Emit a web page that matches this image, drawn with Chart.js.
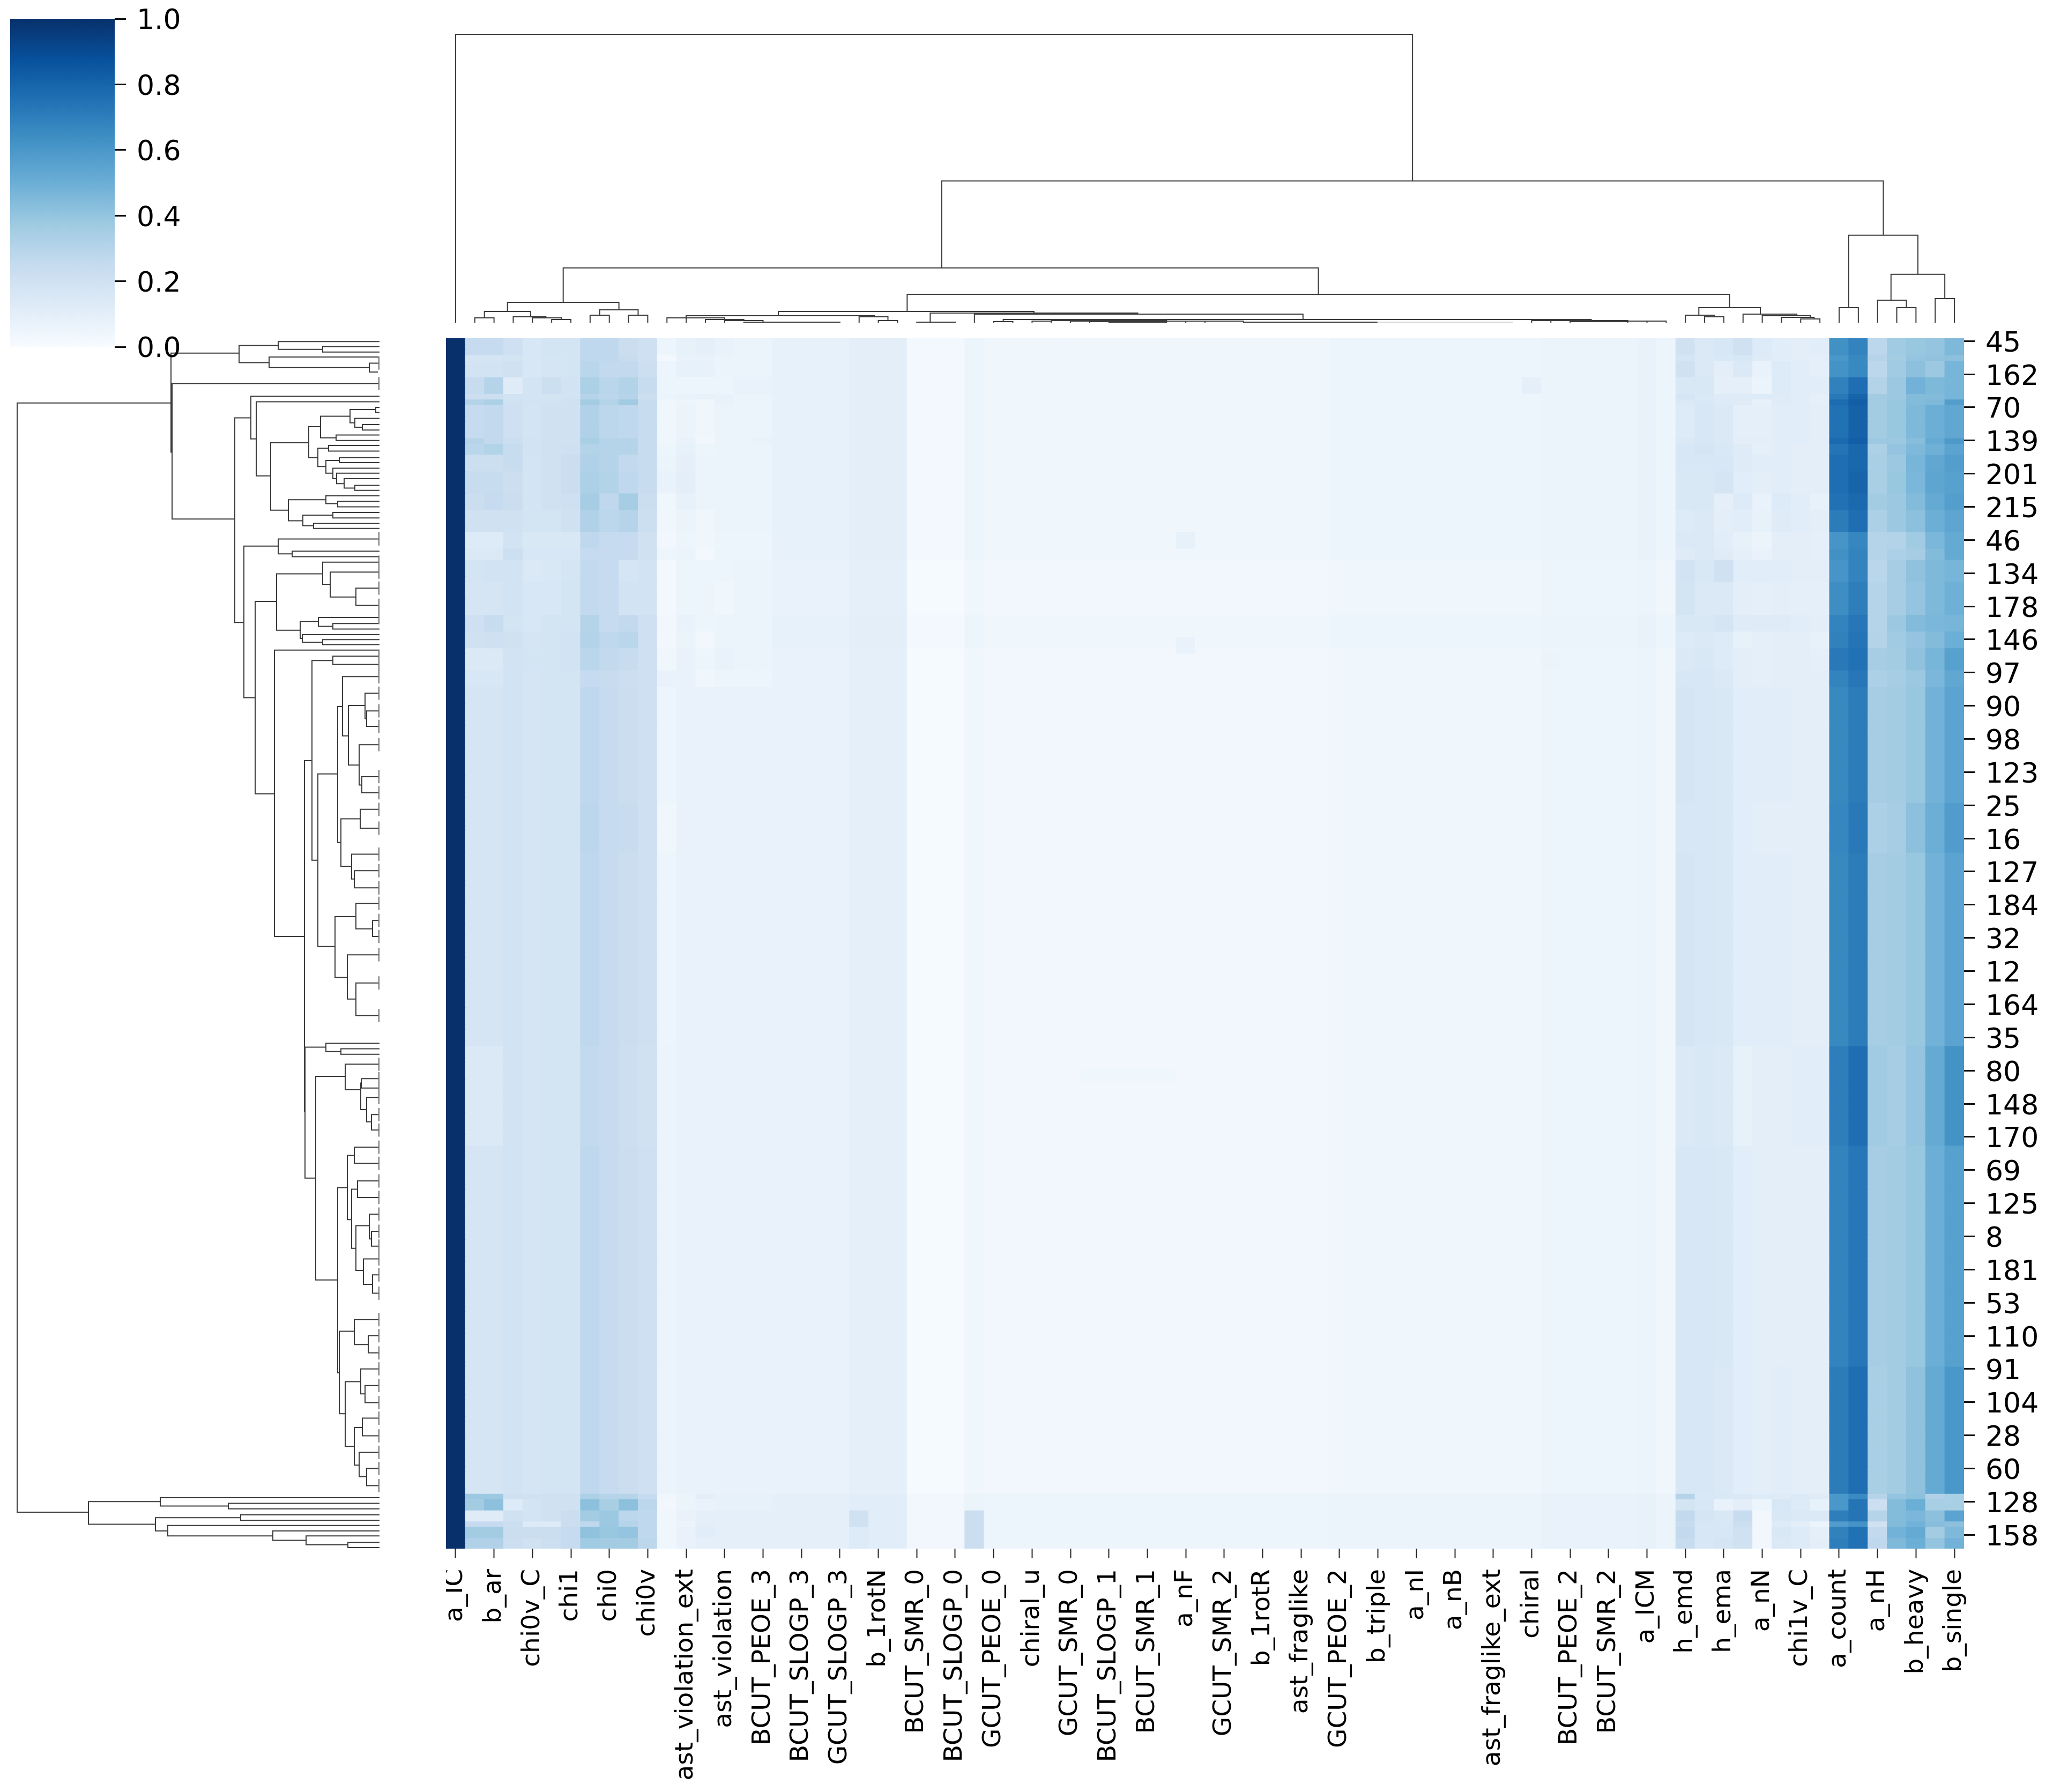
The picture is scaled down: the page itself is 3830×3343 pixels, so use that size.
<!DOCTYPE html>
<html>
<head>
<meta charset="utf-8">
<title>Clustermap</title>
<script src="https://cdn.jsdelivr.net/npm/chart.js@4"></script>
<style>
  html, body { margin: 0; padding: 0; background: #fff; overflow: hidden; }
  #page { position: relative; width: 3830px; height: 3343px; }
  canvas { position: absolute; }
  #colorbar { left: 19px; top: 0; }
  #topTree { left: 832px; top: 61px; }
  #leftTree { left: 18px; top: 631px; }
  #heat { left: 832px; top: 590px; }
</style>
</head>
<body>
<div id="page">
  <canvas id="leftTree" width="690" height="2259"></canvas>
  <canvas id="topTree" width="2832" height="541"></canvas>
  <canvas id="heat" width="2998" height="2753"></canvas>
  <canvas id="colorbar" width="400" height="700"></canvas>
</div>
<script>
Chart.defaults.font.family = "DejaVu Sans";
Chart.defaults.color = "#000";
Chart.defaults.animation = false;
Chart.defaults.events = [];
Chart.defaults.plugins.legend.display = false;
Chart.defaults.plugins.tooltip.enabled = false;

// tick labels: every 2nd column, every 6th row
const columnLabels = ["a_IC", "b_ar", "chi0v_C", "chi1", "chi0", "chi0v", "ast_violation_ext", "ast_violation",
  "BCUT_PEOE_3", "BCUT_SLOGP_3", "GCUT_SLOGP_3", "b_1rotN", "BCUT_SMR_0", "BCUT_SLOGP_0", "GCUT_PEOE_0", "chiral_u",
  "GCUT_SMR_0", "BCUT_SLOGP_1", "BCUT_SMR_1", "a_nF", "GCUT_SMR_2", "b_1rotR", "ast_fraglike", "GCUT_PEOE_2",
  "b_triple", "a_nI", "a_nB", "ast_fraglike_ext", "chiral", "BCUT_PEOE_2", "BCUT_SMR_2", "a_ICM",
  "h_emd", "h_ema", "a_nN", "chi1v_C", "a_count", "a_nH", "b_heavy", "b_single"];
const rowLabels = ["45", "162", "70", "139", "201", "215", "46", "134", "178", "146", "97", "90", "98", "123", "25",
  "16", "127", "184", "32", "12", "164", "35", "80", "148", "170", "69", "125", "8", "181", "53", "110", "91",
  "104", "28", "60", "128", "158"];
const columnCount = 79;
const rowCount = 219;
const colorbarTicks = [0, 0.2, 0.4, 0.6, 0.8, 1];

// matplotlib Blues
const bluesStops = ["#f7fbff", "#deebf7", "#c6dbef", "#9ecae1", "#6baed6", "#4292c6", "#2171b5", "#08519c", "#08306b"];

// column values in the calm rows, in percent of the colour range
const baseColumns = [100,
  17, 17, 19, 17, 18, 18, 27, 25, 23, 21,
  5, 7, 7, 7, 7, 7,
  7, 7, 7, 7,
  9, 9, 9,
  1, 1, 1,
  4,
  3, 3, 3, 3, 3, 3, 3, 3,
  3, 3, 3, 3, 3, 3, 3, 3, 3, 3, 4, 4, 4, 4, 4,
  4, 4, 4, 4, 4, 4, 5, 5, 5, 5,
  5, 6, 4,
  17, 16, 15, 11, 11, 11, 10, 10,
  66, 71, 35, 36, 39, 48, 55];

// rows that differ: [first row, last row, lift of the pale middle, columns 1-16, columns 64-78]
const rowBands = [
  [0, 2, 1, [25, 25, 21, 16, 18, 18, 27, 27, 23, 21, 5, 8, 9, 7, 6, 6], [20, 14, 16, 20, 13, 11, 10, 11, 63, 68, 28, 37, 39, 40, 45]],
  [3, 3, 1, [17, 17, 18, 16, 17, 18, 27, 27, 24, 21, 2, 7, 7, 6, 6, 6], [17, 14, 15, 16, 12, 11, 10, 10, 60, 66, 30, 36, 40, 41, 42]],
  [4, 6, 1, [19, 19, 20, 16, 17, 18, 29, 26, 26, 22, 5, 8, 8, 6, 6, 6], [20, 14, 10, 14, 7, 13, 11, 9, 62, 66, 28, 37, 42, 38, 47]],
  [7, 9, 1, [24, 30, 12, 18, 22, 19, 33, 29, 31, 24, 5, 5, 5, 5, 7, 7], [15, 15, 9, 9, 6, 13, 11, 11, 69, 76, 31, 38, 48, 45, 47]],
  [10, 10, 1, [22, 22, 19, 18, 18, 19, 30, 28, 30, 22, 6, 7, 8, 7, 6, 6], [17, 14, 12, 12, 13, 12, 11, 9, 72, 80, 36, 38, 44, 44, 47]],
  [11, 11, 1, [31, 33, 20, 19, 19, 20, 36, 31, 37, 24, 4, 5, 4, 7, 6, 6], [14, 15, 13, 12, 8, 12, 11, 9, 77, 82, 36, 39, 44, 45, 57]],
  [12, 17, 1, [25, 26, 21, 18, 20, 20, 32, 28, 27, 24, 4, 6, 4, 6, 6, 6], [13, 16, 14, 9, 9, 11, 11, 10, 75, 81, 36, 39, 45, 50, 53]],
  [18, 18, 1, [30, 26, 22, 19, 20, 20, 34, 30, 30, 24, 4, 7, 3, 6, 6, 7], [14, 16, 14, 10, 10, 11, 11, 10, 78, 82, 38, 38, 43, 52, 59]],
  [19, 20, 1, [29, 31, 24, 19, 20, 21, 31, 30, 30, 24, 5, 8, 5, 6, 6, 6], [16, 17, 15, 12, 9, 11, 10, 10, 74, 79, 33, 40, 45, 49, 55]],
  [21, 23, 1, [22, 22, 24, 18, 20, 23, 32, 30, 26, 24, 6, 9, 6, 6, 6, 6], [16, 16, 16, 12, 11, 11, 10, 10, 76, 79, 34, 38, 47, 53, 57]],
  [24, 27, 1, [24, 24, 22, 18, 20, 23, 33, 31, 27, 24, 7, 10, 6, 6, 6, 6], [15, 15, 17, 11, 10, 11, 10, 10, 76, 80, 34, 39, 46, 54, 56]],
  [28, 30, 1, [23, 25, 23, 18, 20, 21, 35, 27, 35, 23, 4, 8, 6, 6, 6, 6], [15, 15, 9, 13, 7, 13, 11, 8, 75, 78, 36, 38, 44, 52, 57]],
  [31, 34, 1, [20, 20, 20, 18, 18, 20, 32, 28, 30, 22, 4, 6, 4, 6, 6, 6], [13, 14, 10, 11, 8, 12, 11, 10, 71, 76, 33, 38, 42, 50, 54]],
  [35, 37, 1, [13, 13, 19, 15, 15, 15, 27, 25, 25, 20, 3, 5, 4, 5, 5, 5], [14, 14, 11, 8, 6, 10, 10, 9, 61, 67, 30, 31, 37, 46, 52]],
  [38, 39, 1, [14, 14, 22, 16, 16, 16, 25, 25, 25, 20, 5, 6, 2, 5, 5, 5], [12, 14, 12, 9, 7, 10, 10, 9, 63, 68, 30, 33, 35, 44, 52]],
  [40, 43, 0, [18, 19, 19, 14, 15, 17, 26, 25, 17, 19, 2, 5, 5, 5, 6, 6], [19, 15, 20, 11, 11, 11, 10, 10, 61, 68, 29, 35, 41, 45, 47]],
  [44, 49, 0, [17, 17, 19, 16, 16, 18, 26, 25, 19, 19, 2, 5, 5, 4, 6, 6], [18, 14, 14, 10, 9, 10, 9, 9, 64, 70, 30, 35, 40, 45, 49]],
  [50, 52, 1, [21, 24, 18, 16, 18, 18, 30, 25, 26, 21, 3, 7, 5, 6, 6, 6], [15, 15, 17, 12, 12, 12, 11, 10, 68, 73, 30, 38, 44, 46, 47]],
  [53, 55, 1, [20, 21, 20, 17, 18, 19, 31, 27, 29, 21, 3, 6, 3, 6, 6, 6], [13, 14, 13, 8, 9, 10, 10, 8, 69, 74, 31, 37, 40, 44, 50]],
  [56, 59, 0, [14, 14, 19, 18, 18, 19, 29, 26, 24, 21, 4, 7, 5, 7, 6, 6], [14, 15, 13, 10, 9, 10, 10, 9, 72, 75, 35, 36, 41, 47, 56]],
  [60, 62, 0, [16, 16, 19, 17, 18, 18, 25, 24, 22, 21, 7, 7, 4, 5, 5, 5], [16, 16, 14, 10, 9, 10, 10, 10, 68, 73, 33, 35, 38, 46, 53]],
  [84, 92, 0, [17, 17, 19, 17, 18, 18, 28, 25, 24, 21, 4, 7, 7, 7, 7, 7], [16, 16, 15, 11, 10, 10, 10, 10, 67, 72, 33, 35, 42, 50, 58]],
  [128, 145, 0, [14, 14, 19, 17, 18, 18, 26, 25, 22, 20, 6, 7, 7, 7, 7, 7], [14, 15, 14, 8, 10, 10, 11, 11, 70, 76, 37, 35, 40, 52, 62]],
  [146, 185, 0, [17, 17, 19, 17, 18, 18, 27, 25, 23, 21, 6, 7, 7, 7, 7, 7], [16, 16, 15, 11, 10, 10, 10, 10, 68, 73, 35, 36, 39, 50, 56]],
  [186, 208, 0, [17, 17, 19, 17, 18, 18, 27, 25, 23, 21, 6, 7, 7, 7, 7, 7], [16, 16, 14, 11, 10, 11, 10, 10, 71, 76, 34, 36, 41, 52, 60]],
  [209, 209, 2, [38, 38, 20, 20, 20, 20, 33, 30, 30, 25, 4, 6, 10, 8, 8, 8], [30, 15, 15, 14, 13, 12, 14, 12, 60, 65, 30, 40, 42, 32, 34]],
  [210, 211, 2, [36, 42, 13, 18, 20, 20, 42, 34, 42, 28, 3, 6, 7, 8, 8, 8], [18, 16, 7, 10, 5, 16, 13, 8, 60, 74, 22, 44, 50, 34, 34]],
  [212, 213, 2, [12, 12, 20, 18, 20, 23, 36, 38, 28, 27, 4, 7, 9, 9, 9, 9], [26, 17, 15, 24, 3, 15, 14, 14, 70, 74, 30, 44, 46, 42, 55]],
  [214, 214, 2, [25, 25, 22, 13, 13, 23, 27, 38, 30, 27, 4, 6, 10, 9, 9, 9], [24, 16, 16, 22, 3, 13, 10, 6, 58, 62, 20, 44, 48, 43, 42]],
  [215, 216, 2, [36, 36, 23, 23, 23, 25, 41, 39, 40, 27, 4, 7, 11, 9, 9, 9], [26, 16, 16, 20, 3, 15, 13, 9, 69, 75, 26, 48, 52, 36, 45]],
  [217, 218, 2, [32, 32, 22, 20, 22, 25, 37, 36, 36, 28, 4, 7, 9, 9, 9, 9], [24, 16, 17, 20, 3, 14, 13, 10, 70, 75, 27, 45, 50, 40, 48]],
];

// small patches: [first row, last row, first column, last column, value in percent]
const spots = [
  [35, 37, 38, 38, 8],
  [54, 56, 38, 38, 7],
  [7, 9, 56, 56, 9],
  [57, 59, 57, 57, 6],
  [132, 134, 33, 37, 4],
  [212, 214, 21, 21, 20],
  [215, 218, 21, 21, 13],
  [212, 218, 27, 27, 23],
];

// dendrogram links in the way scipy lays them out, 10 units to a leaf:
// [position 1, height 1, position 2, height 2, height of the join]
// height 2 marks a leaf pair that joins almost at zero
const rowLinks = [
  [117, 389, 2123, 543, 676], [27, 262, 206, 387, 389], [82, 2, 327, 270, 387],
  [13, 189, 44, 206, 262], [6, 0, 20, 106, 189], [15, 0, 25, 0, 106], [34, 0, 53, 19, 206], [45, 2, 61, 3, 19],
  [144, 240, 514, 253, 270], [105, 0, 182, 230, 240], [115, 0, 249, 203, 230], [189, 132, 311, 170, 203],
  [160, 110, 216, 115, 132], [141, 55, 180, 81, 110], [129, 7, 153, 46, 55], [125, 0, 134, 0, 7],
  [145, 0, 161, 32, 46], [156, 0, 166, 0, 32], [175, 0, 185, 0, 81],
  [199, 95, 232, 100, 115], [194, 0, 204, 0, 95], [221, 75, 244, 87, 100], [216, 0, 225, 0, 75],
  [235, 0, 254, 80, 87], [244, 0, 263, 66, 80], [254, 0, 271, 46, 66], [266, 0, 275, 0, 46],
  [292, 100, 330, 143, 170], [285, 0, 299, 78, 100], [295, 0, 305, 0, 78], [320, 87, 339, 123, 143],
  [315, 0, 325, 0, 87], [335, 0, 344, 0, 123],
  [376, 189, 650, 232, 253], [363, 2, 390, 163, 189], [385, 0, 395, 0, 163],
  [476, 192, 824, 196, 232], [426, 106, 528, 148, 192], [405, 2, 445, 92, 106], [423, 2, 468, 44, 92],
  [452, 2, 483, 2, 44], [512, 114, 543, 144, 148], [505, 2, 521, 87, 114], [516, 0, 526, 0, 87],
  [536, 0, 550, 106, 144], [545, 0, 554, 0, 106],
  [564, 0, 1082, 140, 196], [764, 126, 1400, 140, 140], [1282, 100, 1519, 119, 139],
  [583, 87, 944, 115, 126], [575, 2, 590, 2, 87], [788, 78, 1100, 83, 115],
  [666, 69, 912, 72, 78], [612, 2, 719, 58, 69], [664, 27, 772, 38, 58], [642, 2, 688, 24, 27], [674, 2, 702, 2, 24],
  [735, 2, 808, 33, 38], [793, 2, 822, 2, 33], [869, 36, 955, 52, 72], [852, 2, 886, 2, 36], [933, 2, 978, 47, 52],
  [963, 2, 994, 2, 47], [1046, 44, 1156, 60, 83], [1022, 2, 1068, 13, 44], [1053, 2, 1082, 2, 13],
  [1115, 2, 1195, 44, 60], [1166, 2, 1225, 2, 44],
  [1275, 0, 1290, 72, 100], [1285, 0, 1295, 0, 72], [1335, 64, 1703, 78, 119], [1313, 2, 1359, 35, 64],
  [1347, 34, 1395, 24, 35], [1339, 2, 1356, 2, 34], [1373, 2, 1417, 15, 24], [1404, 2, 1432, 2, 15],
  [1536, 60, 1871, 75, 78], [1478, 47, 1594, 52, 60], [1463, 2, 1492, 2, 47], [1539, 41, 1646, 44, 52],
  [1524, 2, 1554, 2, 41], [1605, 19, 1686, 30, 44], [1584, 2, 1629, 15, 19], [1615, 2, 1642, 2, 15],
  [1665, 2, 1711, 13, 30], [1694, 2, 1727, 2, 13], [1796, 47, 1945, 64, 75], [1775, 2, 1820, 21, 47],
  [1804, 2, 1835, 2, 21], [1887, 35, 2004, 47, 64], [1864, 2, 1909, 27, 35], [1894, 2, 1925, 2, 27],
  [1970, 32, 2038, 38, 47], [1953, 2, 1985, 2, 32], [2015, 2, 2059, 24, 38], [2044, 2, 2075, 2, 24],
  [2104, 409, 2145, 418, 543], [2097, 0, 2112, 282, 409], [2107, 0, 2117, 0, 282], [2133, 259, 2157, 395, 418],
  [2128, 0, 2138, 0, 259], [2147, 0, 2166, 199, 395], [2157, 0, 2174, 137, 199], [2166, 0, 2182, 59, 137],
  [2178, 0, 2187, 0, 59],
];
const columnLinks = [
  [5, 0, 503, 264, 537], [258, 102, 748, 163, 264], [61, 38, 454, 53, 102], [32, 21, 90, 24, 38],
  [20, 9, 44, 11, 21], [15, 0, 25, 0, 9], [35, 0, 52, 9, 11], [45, 0, 60, 6, 9], [55, 0, 65, 0, 6],
  [80, 14, 100, 14, 24], [75, 0, 85, 0, 14], [95, 0, 105, 0, 14],
  [240, 21, 668, 28, 53], [173, 13, 306, 18, 21], [125, 9, 223, 11, 13], [115, 0, 145, 6, 9],
  [135, 0, 155, 4, 6], [145, 0, 165, 1, 4], [155, 0, 205, 0, 1], [125, 0, 125, 9, 9],
  [215, 0, 230, 4, 11], [225, 0, 235, 0, 4],
  [252, 1, 360, 16, 18], [245, 0, 265, 0, 1], [275, 0, 446, 6, 16], [290, 2, 596, 4, 6], [285, 0, 295, 0, 2],
  [305, 0, 315, 0, 3], [315, 0, 375, 0, 4], [325, 0, 375, 0, 3], [335, 0, 375, 0, 2], [345, 0, 375, 0, 1],
  [375, 0, 385, 0, 3], [385, 0, 395, 0, 3], [395, 0, 415, 0, 3], [415, 0, 485, 0, 1],
  [565, 0, 575, 0, 4], [575, 0, 615, 3, 4], [585, 0, 615, 0, 2], [615, 0, 635, 0, 3], [625, 0, 625, 0, 3],
  [652, 14, 684, 16, 28], [645, 0, 660, 11, 14], [655, 0, 665, 0, 11], [675, 0, 703, 13, 16],
  [685, 0, 710, 10, 13], [695, 0, 712, 7, 10], [705, 0, 715, 0, 7],
  [730, 28, 766, 90, 163], [725, 0, 735, 0, 28], [752, 42, 780, 45, 90], [745, 0, 760, 28, 42],
  [755, 0, 765, 0, 28], [775, 0, 785, 0, 45],
];
const faintColumnLinks = [[485, 0, 555, 0, 1]];

function hexToRgb(hex) {
  return [1, 3, 5].map((i) => parseInt(hex.slice(i, i + 2), 16));
}

function bluesColor(value) {
  const at = Math.min(Math.max(value, 0), 1) * (bluesStops.length - 1);
  const low = Math.min(Math.floor(at), bluesStops.length - 2);
  const a = hexToRgb(bluesStops[low]);
  const b = hexToRgb(bluesStops[low + 1]);
  const rgb = a.map((c, i) => Math.round(c + (b[i] - c) * (at - low)));
  return `rgb(${rgb[0]},${rgb[1]},${rgb[2]})`;
}

// builds the table of cells from the base columns, the bands and the spots
function buildCells() {
  const cells = [];
  for (let r = 0; r < rowCount; r++) {
    cells.push(baseColumns.slice());
  }
  rowBands.forEach(([first, last, lift, left, right]) => {
    for (let r = first; r <= last; r++) {
      for (let c = 17; c < 64; c++) {
        cells[r][c] = baseColumns[c] + lift;
      }
      left.forEach((v, i) => { cells[r][i + 1] = v; });
      right.forEach((v, i) => { cells[r][i + 64] = v; });
    }
  });
  spots.forEach(([r0, r1, c0, c1, v]) => {
    for (let r = r0; r <= r1; r++) {
      for (let c = c0; c <= c1; c++) {
        cells[r][c] = v;
      }
    }
  });
  return cells;
}

// one line with gaps: position and height swap places for the row tree
function linkPoints(links, sideways) {
  const points = [];
  const add = (p, h) => points.push(sideways ? { x: h, y: p } : { x: p, y: h });
  links.forEach(([p1, h1, p2, h2, top]) => {
    add(p1, h1);
    add(p1, top);
    add(p2, top);
    add(p2, h2);
    points.push({ x: null, y: null });
  });
  return points;
}

// short grey ticks at the leaf edge for the leaf pairs that join almost at zero
function nearZeroTicks(links) {
  const points = [];
  links.forEach(([p1, h1, p2, h2]) => {
    if (h1 === 2) points.push({ x: 1, y: p1 - 12 }, { x: 1, y: p1 + 12 }, { x: null, y: null });
    if (h2 === 2) points.push({ x: 1, y: p2 - 12 }, { x: 1, y: p2 + 12 }, { x: null, y: null });
  });
  return points;
}

function lineDataset(data, color, width) {
  return { data, showLine: true, borderColor: color, borderWidth: width, pointRadius: 0, spanGaps: false, clip: false };
}

const hiddenAxis = (min, max, reverse) => ({ type: "linear", display: false, min, max, reverse: !!reverse });

// the first and last tick label must not push the chart area in
function fixAxisSize(axis, width, height) {
  if (width) axis.width = width;
  if (height) axis.height = height;
  axis.paddingTop = 0;
  axis.paddingBottom = 0;
  axis.paddingLeft = 0;
  axis.paddingRight = 0;
}

// an empty first line with a small line height drops the digits onto the tick,
// matplotlib centres them a little lower than the canvas does
const dropLabel = (text) => ["", text];
const tickFont = { size: 52, lineHeight: 0.23 };

new Chart(document.getElementById("topTree"), {
  type: "scatter",
  data: {
    datasets: [
      lineDataset(linkPoints(faintColumnLinks, false), "#d8d8d8", 2),
      lineDataset(linkPoints(columnLinks, false), "#3a3a3a", 2),
    ],
  },
  options: {
    responsive: false,
    scales: { x: hiddenAxis(0, 790), y: hiddenAxis(0, 540) },
  },
});

new Chart(document.getElementById("leftTree"), {
  type: "scatter",
  data: {
    datasets: [
      lineDataset(nearZeroTicks(rowLinks), "#777", 2.5),
      lineDataset(linkPoints(rowLinks, true), "#3a3a3a", 2),
    ],
  },
  options: {
    responsive: false,
    scales: { x: hiddenAxis(0, 690, true), y: hiddenAxis(0, 2190, true) },
  },
});

const cells = buildCells();
const heatDatasets = cells.map((row, r) => ({
  // a hair taller than the row, so no white seams show between the bars
  data: row.map(() => [r, r + 1.08]),
  backgroundColor: row.map((v) => bluesColor(v / 100)),
  borderWidth: 0,
  barPercentage: 1.03,
  categoryPercentage: 1,
  grouped: false,
}));

new Chart(document.getElementById("heat"), {
  type: "bar",
  data: {
    labels: Array.from({ length: columnCount }, (_, c) => (c % 2 ? "" : columnLabels[c / 2])),
    datasets: heatDatasets,
  },
  options: {
    responsive: false,
    layout: { padding: { top: 41 } },
    scales: {
      x: {
        afterFit: (axis) => fixAxisSize(axis, 0, 454),
        border: { display: false },
        grid: { offset: false, drawOnChartArea: false, tickLength: 18, tickWidth: 2, tickColor: "#222" },
        ticks: {
          autoSkip: false,
          minRotation: 90,
          maxRotation: 90,
          padding: 20,
          font: { size: 47 },
          callback: (value, i) => (i % 2 ? null : columnLabels[i / 2]),
        },
      },
      y: {
        type: "linear",
        position: "right",
        reverse: true,
        min: 0,
        max: rowCount,
        afterFit: (axis) => fixAxisSize(axis, 166, 0),
        afterBuildTicks: (axis) => {
          axis.ticks = rowLabels.map((_, i) => ({ value: i * 6 + 0.5 }));
        },
        border: { display: false },
        grid: { drawOnChartArea: false, tickLength: 20, tickWidth: 3, tickColor: "#111" },
        ticks: {
          autoSkip: false,
          padding: 20,
          font: tickFont,
          callback: (value, i) => dropLabel(rowLabels[i]),
        },
      },
    },
  },
});

new Chart(document.getElementById("colorbar"), {
  type: "bar",
  data: {
    labels: ["scale"],
    datasets: [{
      data: [[0, 1]],
      barPercentage: 1,
      categoryPercentage: 1,
      backgroundColor: (ctx) => {
        const { chart } = ctx;
        if (!chart.chartArea) return bluesStops[0];
        const y = chart.scales.y;
        const fill = chart.ctx.createLinearGradient(0, y.getPixelForValue(0), 0, y.getPixelForValue(1));
        bluesStops.forEach((c, i) => fill.addColorStop(i / (bluesStops.length - 1), c));
        return fill;
      },
    }],
  },
  options: {
    responsive: false,
    layout: { padding: { top: 35, bottom: 53 } },
    scales: {
      x: { display: false },
      y: {
        position: "right",
        min: 0,
        max: 1,
        afterFit: (axis) => fixAxisSize(axis, 205, 0),
        afterBuildTicks: (axis) => {
          axis.ticks = colorbarTicks.map((value) => ({ value }));
        },
        border: { display: false },
        grid: { drawOnChartArea: false, tickLength: 21, tickWidth: 3, tickColor: "#111" },
        ticks: { padding: 20, font: tickFont, callback: (v) => dropLabel(v.toFixed(1)) },
      },
    },
  },
});
</script>
</body>
</html>
